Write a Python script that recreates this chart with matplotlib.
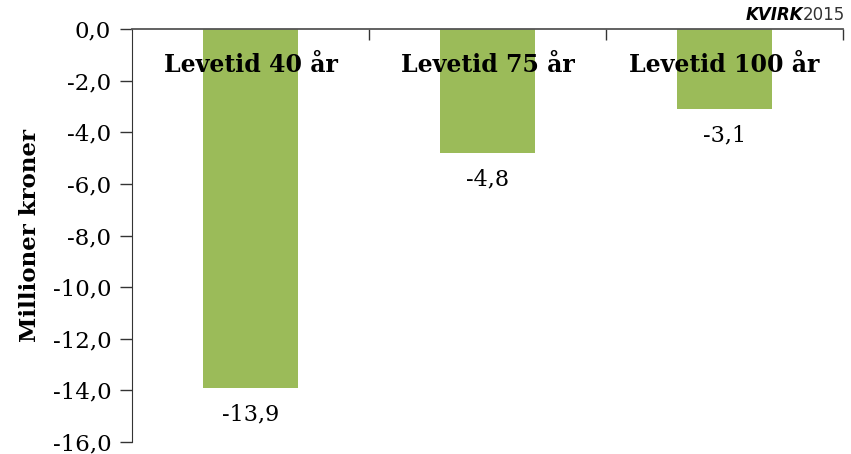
import matplotlib.pyplot as plt
import numpy as np

kategorier = ['Levetid 40 år', 'Levetid 75 år', 'Levetid 100 år']
verdier = [-13.9, -4.8, -3.1]
y_ticks = [0, -2, -4, -6, -8, -10, -12, -14, -16]

FARGE_STOLPE = '#9BBB59'
plt.rcParams['font.family'] = ['DejaVu Serif']

fig = plt.figure(figsize=(8.51, 4.54), dpi=100)
ax = fig.add_axes([0.1551, 0.0264, 0.8355, 0.9097])

x = np.arange(len(kategorier))
ax.bar(x, verdier, width=0.4, color=FARGE_STOLPE, zorder=2)

ax.set_xlim(-0.5, len(kategorier) - 0.5)
ax.set_ylim(-16, 0)
ax.set_yticks(y_ticks)
ax.set_yticklabels([f'{v:.1f}'.replace('.', ',') for v in y_ticks], fontsize=16.5)
ax.tick_params(axis='y', direction='out', length=9, width=1, pad=6, color='#333333')

# x-aksen ligger oppe ved 0, med små merker mellom kategoriene
ax.xaxis.set_ticks_position('top')
ax.set_xticks([])
ax.set_xticks(x + 0.5, minor=True)
ax.tick_params(axis='x', which='minor', direction='in', length=8, width=1, color='#333333')

for side in ['bottom', 'right']:
    ax.spines[side].set_visible(False)
ax.spines['top'].set_color('#555555')
ax.spines['top'].set_linewidth(1.3)
ax.spines['left'].set_color('#333333')

for xi, navn in zip(x, kategorier):
    ax.text(xi, -1.4, navn, ha='center', va='center', fontsize=17, fontweight='bold', zorder=3)

for xi, v in zip(x, verdier):
    ax.annotate(f'{v:.1f}'.replace('.', ','), (xi, v), xytext=(0, -19), textcoords='offset points',
                ha='center', va='center', fontsize=16)

ax.set_ylabel('Millioner kroner', fontsize=16.5, fontweight='bold', labelpad=8)

fig.text(0.9435, 0.966, 'KVIRK', family='DejaVu Sans', fontweight='bold', style='italic',
         fontsize=12, ha='right', va='center')
fig.text(0.9935, 0.966, '2015', family='DejaVu Sans', fontsize=12, ha='right', va='center', color='#333333')

fig.savefig('out.png', dpi=100)
